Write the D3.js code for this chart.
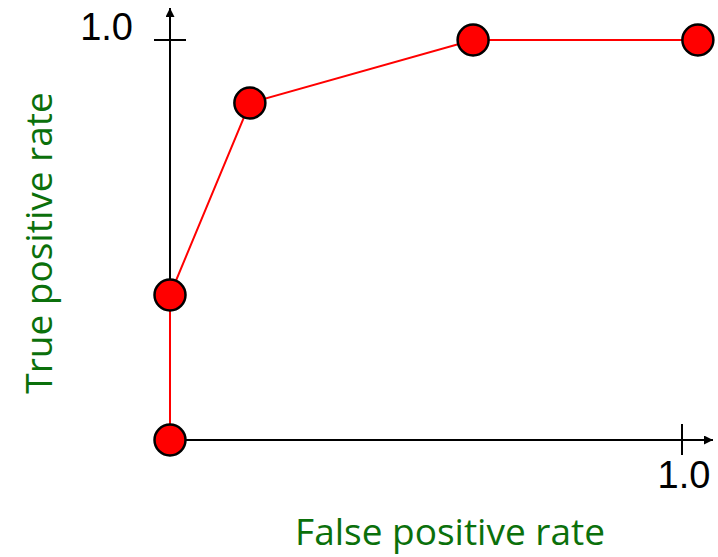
<!DOCTYPE html>
<html><head><meta charset="utf-8">
<script src="https://cdn.jsdelivr.net/npm/d3@7"></script>
<style>html,body{margin:0;padding:0;background:#fff;}</style>
</head><body>
<script>
const fpr = [0, 0, 0.156, 0.592, 1.031];
const tpr = [0, 0.3625, 0.8425, 1, 1];
const xTickLabels = ["1.0"];
const yTickLabels = ["1.0"];
const xTitle = "False positive rate";
const yTitle = "True positive rate";

const W = 718, H = 557;
const svg = d3.select("body").append("svg").attr("width", W).attr("height", H);
const x = d3.scaleLinear().domain([0, 1]).range([170, 682]);
const y = d3.scaleLinear().domain([0, 1]).range([440, 40]);

const defs = svg.append("defs");
defs.append("marker").attr("id", "arr").attr("viewBox", "0 0 10 10").attr("refX", 10).attr("refY", 5)
  .attr("markerWidth", 9).attr("markerHeight", 9).attr("markerUnits", "userSpaceOnUse").attr("orient", "auto")
  .append("path").attr("d", "M0,0L10,5L0,10Z").attr("fill", "#000");

// axes
svg.append("line").attr("x1", x(0)).attr("y1", y(0)).attr("x2", 713).attr("y2", y(0))
  .attr("stroke", "#000").attr("stroke-width", 2).attr("marker-end", "url(#arr)");
svg.append("line").attr("x1", x(0)).attr("y1", y(0)).attr("x2", x(0)).attr("y2", 8)
  .attr("stroke", "#000").attr("stroke-width", 2).attr("marker-end", "url(#arr)");
// ticks
svg.append("line").attr("x1", x(1)).attr("x2", x(1)).attr("y1", 424).attr("y2", 455).attr("stroke", "#000").attr("stroke-width", 2);
svg.append("line").attr("x1", 154).attr("x2", 186).attr("y1", y(1)).attr("y2", y(1)).attr("stroke", "#000").attr("stroke-width", 2);

const font = "'Liberation Sans', Arial, sans-serif";
svg.append("text").attr("x", x(1) + 2).attr("y", 488).attr("text-anchor", "middle")
  .attr("font-family", font).attr("font-size", 38).attr("fill", "#000").text(xTickLabels[0]);
svg.append("text").attr("x", 133).attr("y", 40).attr("text-anchor", "end")
  .attr("font-family", font).attr("font-size", 38).attr("fill", "#000").text(yTickLabels[0]);

const green = "#0b700b";
svg.append("text").attr("x", 450).attr("y", 545).attr("text-anchor", "middle")
  .attr("font-family", "'Open Sans', sans-serif").attr("font-size", 37).attr("fill", green).text(xTitle);
svg.append("text").attr("transform", "translate(52,243) rotate(-90)").attr("text-anchor", "middle")
  .attr("font-family", "'Open Sans', sans-serif").attr("font-size", 37).attr("fill", green).text(yTitle);

const pts = fpr.map((d, i) => [d, tpr[i]]);
svg.append("path").datum(pts)
  .attr("d", d3.line().x(d => x(d[0])).y(d => y(d[1])))
  .attr("fill", "none").attr("stroke", "#ff0000").attr("stroke-width", 2);
svg.selectAll("circle.pt").data(pts).enter().append("circle")
  .attr("cx", d => x(d[0])).attr("cy", d => y(d[1])).attr("r", 15.5)
  .attr("fill", "#ff0000").attr("stroke", "#000").attr("stroke-width", 2.5);
</script>
</body></html>
